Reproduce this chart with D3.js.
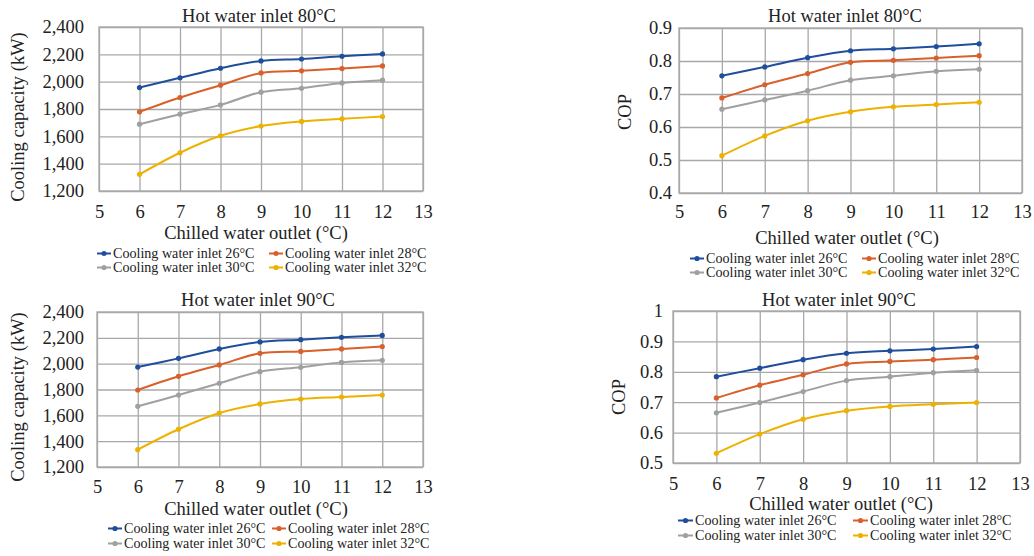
<!DOCTYPE html>
<html>
<head>
<meta charset="utf-8">
<script src="https://cdn.jsdelivr.net/npm/d3@7"></script>
<style>
  html, body { margin: 0; padding: 0; background: #fff; }
  svg { display: block; font-family: "Liberation Serif", "Times New Roman", serif; }
</style>
</head>
<body>
<svg id="chart" width="1034" height="556"></svg>
<script>
// ---------------- data ----------------
const xValues = [6, 7, 8, 9, 10, 11, 12];
const xTicks = [5, 6, 7, 8, 9, 10, 11, 12, 13];
const seriesNames = ["Cooling water inlet 26°C", "Cooling water inlet 28°C", "Cooling water inlet 30°C", "Cooling water inlet 32°C"];
const seriesColors = ["#1f4e9c", "#d9602a", "#a0a0a0", "#edb100"];

const capTicks = [1200, 1400, 1600, 1800, 2000, 2200, 2400];
const cop80Ticks = [0.4, 0.5, 0.6, 0.7, 0.8, 0.9];
const cop90Ticks = [0.5, 0.6, 0.7, 0.8, 0.9, 1];

// Hot water inlet 80°C – cooling capacity (kW)
const cap80_26 = [1957, 2028, 2098, 2152, 2166, 2186, 2203];
const cap80_28 = [1779, 1884, 1974, 2064, 2079, 2096, 2115];
const cap80_30 = [1689, 1762, 1830, 1923, 1952, 1991, 2011];
const cap80_32 = [1322, 1480, 1604, 1675, 1709, 1728, 1745];

// Hot water inlet 80°C – COP
const cop80_26 = [0.755, 0.782, 0.810, 0.831, 0.837, 0.844, 0.852];
const cop80_28 = [0.688, 0.728, 0.762, 0.796, 0.802, 0.809, 0.816];
const cop80_30 = [0.654, 0.682, 0.710, 0.742, 0.755, 0.769, 0.775];
const cop80_32 = [0.513, 0.573, 0.619, 0.646, 0.661, 0.668, 0.675];

// Hot water inlet 90°C – cooling capacity (kW)
const cap90_26 = [1974, 2041, 2114, 2168, 2186, 2204, 2219];
const cap90_28 = [1796, 1902, 1990, 2080, 2095, 2114, 2132];
const cap90_30 = [1670, 1757, 1848, 1938, 1972, 2010, 2026];
const cap90_32 = [1334, 1492, 1618, 1688, 1726, 1742, 1757];

// Hot water inlet 90°C – COP
const cop90_26 = [0.784, 0.812, 0.840, 0.861, 0.869, 0.875, 0.883];
const cop90_28 = [0.714, 0.756, 0.790, 0.826, 0.834, 0.840, 0.847];
const cop90_30 = [0.665, 0.699, 0.735, 0.771, 0.784, 0.797, 0.805];
const cop90_32 = [0.532, 0.595, 0.644, 0.672, 0.686, 0.693, 0.699];

// ---------------- layout ----------------
const svg = d3.select("#chart");
const FS = 18.5, LFS = 14.1;
const gridColor = "#a8a8a8";

const panels = [
  { title: "Hot water inlet 80°C", ylabel: "Cooling capacity (kW)", series: [cap80_26, cap80_28, cap80_30, cap80_32],
    ticks: capTicks, fmt: d3.format(","), domain: [1200, 2400],
    x0: 99, x1: 423, y0: 27, y1: 191, titleX: 259, titleY: 22, tickRight: 84, xTickY: 218,
    axTitleX: 256, axTitleY: 239, ylabX: 24, ylabY: 117,
    leg: { c1: 97, c2: 269, mk: 14, r1: 258, r2: 272 } },
  { title: "Hot water inlet 80°C", ylabel: "COP", series: [cop80_26, cop80_28, cop80_30, cop80_32],
    ticks: cop80Ticks, fmt: d3.format(".1f"), domain: [0.4, 0.9],
    x0: 679, x1: 1022, y0: 28, y1: 193, titleX: 845, titleY: 22, tickRight: 672, xTickY: 218,
    axTitleX: 847, axTitleY: 244, ylabX: 631, ylabY: 112,
    leg: { c1: 690, c2: 862, mk: 14, r1: 263, r2: 277 } },
  { title: "Hot water inlet 90°C", ylabel: "Cooling capacity (kW)", series: [cap90_26, cap90_28, cap90_30, cap90_32],
    ticks: capTicks, fmt: d3.format(","), domain: [1200, 2400],
    x0: 97, x1: 423, y0: 312, y1: 467, titleX: 258, titleY: 306, tickRight: 84, xTickY: 493,
    axTitleX: 256, axTitleY: 515, ylabX: 24, ylabY: 397,
    leg: { c1: 108, c2: 272, mk: 14, r1: 533, r2: 548 } },
  { title: "Hot water inlet 90°C", ylabel: "COP", series: [cop90_26, cop90_28, cop90_30, cop90_32],
    ticks: cop90Ticks, fmt: d3.format(""), domain: [0.5, 1.0],
    x0: 673, x1: 1020, y0: 311, y1: 463, titleX: 839, titleY: 306, tickRight: 663, xTickY: 490,
    axTitleX: 841, axTitleY: 510, ylabX: 625, ylabY: 397,
    leg: { c1: 678, c2: 853, mk: 15, r1: 525, r2: 540 } }
];

panels.forEach(p => {
  const g = svg.append("g");
  const x = d3.scaleLinear().domain([5, 13]).range([p.x0, p.x1]);
  const y = d3.scaleLinear().domain(p.domain).range([p.y1, p.y0]);

  // horizontal grid + y tick labels
  const yAxis = d3.axisLeft(y).tickValues(p.ticks).tickFormat(p.fmt).tickSize(-(p.x1 - p.x0)).tickPadding(p.x0 - p.tickRight);
  const ya = g.append("g").attr("transform", `translate(${p.x0},0)`).call(yAxis);
  ya.select(".domain").remove();
  ya.selectAll("line").attr("stroke", gridColor).attr("stroke-width", 1.3);
  ya.selectAll("text").attr("font-size", FS).attr("fill", "#222").attr("font-family", "Liberation Serif");

  // vertical grid + x tick labels
  const xAxis = d3.axisBottom(x).tickValues(xTicks).tickFormat(d3.format("d")).tickSize(-(p.y1 - p.y0)).tickPadding(0);
  const xa = g.append("g").attr("transform", `translate(0,${p.y1})`).call(xAxis);
  xa.select(".domain").remove();
  xa.selectAll("line").attr("stroke", gridColor).attr("stroke-width", 1.3);
  xa.selectAll("text").attr("font-size", FS).attr("fill", "#222").attr("font-family", "Liberation Serif")
    .attr("dy", null).attr("y", p.xTickY - p.y1);

  // border
  g.append("rect").attr("x", p.x0).attr("y", p.y0).attr("width", p.x1 - p.x0).attr("height", p.y1 - p.y0)
    .attr("fill", "none").attr("stroke", gridColor).attr("stroke-width", 1.3);

  // lines
  const line = d3.line().x((d, i) => x(xValues[i])).y(d => y(d)).curve(d3.curveCatmullRom.alpha(0.5));
  p.series.forEach((s, k) => {
    g.append("path").datum(s).attr("d", line).attr("fill", "none")
      .attr("stroke", seriesColors[k]).attr("stroke-width", 2);
    g.selectAll(null).data(s).enter().append("circle")
      .attr("cx", (d, i) => x(xValues[i])).attr("cy", d => y(d)).attr("r", 2.6)
      .attr("fill", seriesColors[k]);
  });

  // titles
  g.append("text").attr("x", p.titleX).attr("y", p.titleY).attr("text-anchor", "middle")
    .attr("font-size", FS).attr("fill", "#222").text(p.title);
  g.append("text").attr("x", p.axTitleX).attr("y", p.axTitleY).attr("text-anchor", "middle")
    .attr("font-size", FS).attr("fill", "#222").text("Chilled water outlet (°C)");
  g.append("text").attr("transform", `translate(${p.ylabX},${p.ylabY}) rotate(-90)`).attr("text-anchor", "middle")
    .attr("font-size", FS).attr("fill", "#222").text(p.ylabel);

  // legend
  const pos = [[p.leg.c1, p.leg.r1], [p.leg.c2, p.leg.r1], [p.leg.c1, p.leg.r2], [p.leg.c2, p.leg.r2]];
  seriesNames.forEach((name, k) => {
    const [lx, ly] = pos[k];
    const cy = ly - 4.5;
    g.append("line").attr("x1", lx).attr("x2", lx + p.leg.mk).attr("y1", cy).attr("y2", cy)
      .attr("stroke", seriesColors[k]).attr("stroke-width", 2);
    g.append("circle").attr("cx", lx + p.leg.mk / 2).attr("cy", cy).attr("r", 2.6).attr("fill", seriesColors[k]);
    g.append("text").attr("x", lx + p.leg.mk + 2).attr("y", ly).attr("font-size", LFS).attr("fill", "#222").text(name);
  });
});
</script>
</body>
</html>
